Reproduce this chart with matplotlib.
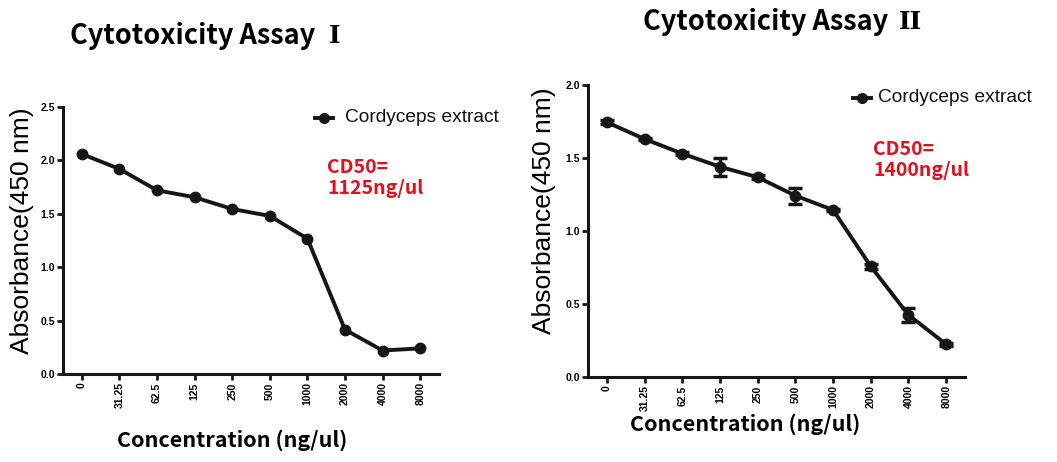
import numpy as np
import matplotlib
matplotlib.use("Agg")
import matplotlib.pyplot as plt

# --- data ---
conc_labels = ["0", "31.25", "62.5", "125", "250", "500", "1000", "2000", "4000", "8000"]
absorb_1 = [2.06, 1.92, 1.72, 1.655, 1.545, 1.48, 1.267, 0.415, 0.22, 0.24]
absorb_2 = [1.745, 1.63, 1.53, 1.44, 1.368, 1.242, 1.144, 0.758, 0.425, 0.224]
err_2 = [0.015, 0.01, 0.01, 0.06, 0.015, 0.055, 0.01, 0.015, 0.05, 0.01]

titles = ["Cytotoxicity Assay", "Cytotoxicity Assay"]
numerals = ["I", "II"]
cd50_text = ["CD50=\n1125ng/ul", "CD50=\n1400ng/ul"]

W, H = 1057, 462
fig = plt.figure(figsize=(W / 100, H / 100), dpi=100)

LINE = "#161616"
RED = "#e0101e"
KFONT = ["Noto Sans CJK KR", "DejaVu Sans"]
AFONT = ["Liberation Sans", "DejaVu Sans"]


def px_axes(x0, x1, ytop, ybot):
    return fig.add_axes([x0 / W, 1 - ybot / H, (x1 - x0) / W, (ybot - ytop) / H])


def style(ax, ymax):
    x = np.arange(len(conc_labels))
    ax.set_xlim(-0.5, 9.5)
    ax.set_ylim(0, ymax)
    ax.set_yticks(np.arange(0, ymax + 0.01, 0.5))
    ax.set_yticklabels([f"{v:.1f}" for v in np.arange(0, ymax + 0.01, 0.5)],
                       fontsize=7.5, fontweight="bold", family=AFONT)
    ax.set_xticks(x)
    ax.set_xticklabels(conc_labels, rotation=90, fontsize=7.5,
                       fontweight="bold", family=AFONT)
    for s in ["top", "right"]:
        ax.spines[s].set_visible(False)
    for s in ["left", "bottom"]:
        ax.spines[s].set_linewidth(2.2)
        ax.spines[s].set_color(LINE)
    ax.tick_params(direction="out", length=4, width=2, color=LINE, pad=2)
    return x


# --- panel I ---
ax1 = px_axes(63, 439, 107, 374)
x = style(ax1, 2.5)
ax1.plot(x, absorb_1, color=LINE, lw=2.8, marker="o", ms=7.5)

# --- panel II ---
ax2 = px_axes(588, 965, 85, 377)
x = style(ax2, 2.0)
ax2.errorbar(x, absorb_2, yerr=err_2, color=LINE, lw=2.8, marker="o", ms=7.5,
             elinewidth=2.5, capsize=5, capthick=2.5)

# legends (single entry, drawn as text + marker)
for mx, tx, ty in [(324, 345, 118), (862, 878, 98)]:
    fig.lines.append(plt.Line2D([(mx - 9) / W, (mx + 9) / W], [1 - ty / H, 1 - ty / H],
                                color=LINE, lw=2.8, transform=fig.transFigure))
    fig.lines.append(plt.Line2D([mx / W], [1 - ty / H], color=LINE, marker="o", ms=7,
                                transform=fig.transFigure))
    fig.text(tx / W, 1 - ty / H, "Cordyceps extract", fontsize=13.8, family=AFONT,
             ha="left", va="center", color="#111111")

# CD50 annotations
fig.text(327 / W, 1 - 178 / H, cd50_text[0], color=RED, fontsize=14, fontweight="bold",
         family=KFONT, ha="left", va="center", linespacing=1.15)
fig.text(873 / W, 1 - 160 / H, cd50_text[1], color=RED, fontsize=14, fontweight="bold",
         family=KFONT, ha="left", va="center", linespacing=1.15)

# titles (main words + serif roman numeral)
fig.text(70 / W, 1 - 36 / H, titles[0], fontsize=19.5, family=KFONT, ha="left",
         va="center", fontweight="bold")
fig.text(329 / W, 1 - 36 / H, numerals[0], fontsize=18, family=["DejaVu Serif"],
         ha="left", va="center", fontweight="bold")
fig.text(643 / W, 1 - 22 / H, titles[1], fontsize=19.5, family=KFONT, ha="left",
         va="center", fontweight="bold")
fig.text(899 / W, 1 - 22 / H, numerals[1], fontsize=18, family=["DejaVu Serif"],
         ha="left", va="center", fontweight="bold")

# axis labels
fig.text(22 / W, 1 - 231 / H, "Absorbance(450 nm)", rotation=90, fontsize=19,
         family=AFONT, ha="center", va="center")
fig.text(544 / W, 1 - 211 / H, "Absorbance(450 nm)", rotation=90, fontsize=19,
         family=AFONT, ha="center", va="center")
fig.text(232 / W, 1 - 440 / H, "Concentration (ng/ul)", fontsize=15.5, family=KFONT,
         ha="center", va="center", fontweight="bold")
fig.text(745 / W, 1 - 424 / H, "Concentration (ng/ul)", fontsize=15.5, family=KFONT,
         ha="center", va="center", fontweight="bold")

fig.savefig("out.png", dpi=100, facecolor="white")
